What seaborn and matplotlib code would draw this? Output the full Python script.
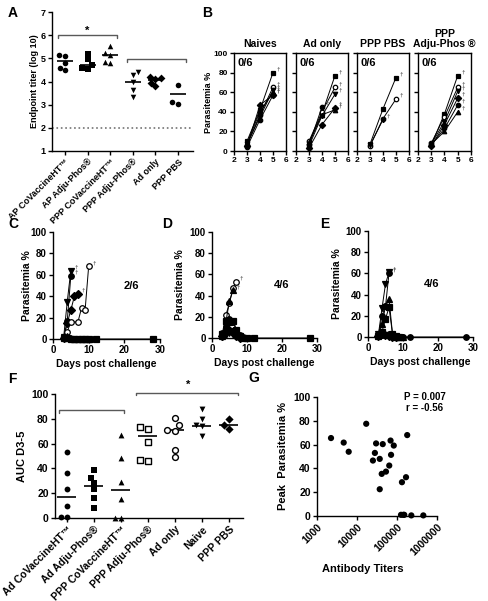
"""Multi-panel immunogenicity / challenge figure (panels A-G)."""

import matplotlib
matplotlib.use("Agg")
import matplotlib.pyplot as plt
import numpy as np
import pandas as pd
import seaborn as sns
from matplotlib.ticker import NullLocator

W, H = 489, 601

# ---------------------------------------------------------------- data
# A: endpoint titers (log10) per vaccine group
A_GROUPS = ["AP CoVaccineHT\u2122", "AP Adju-Phos\u00ae", "PPP CoVaccineHT\u2122",
            "PPP Adju-Phos\u00ae", "Ad only", "PPP PBS"]
A_VALUES = [
    [5.15, 5.10, 4.80, 4.60, 4.50],
    [5.20, 4.95, 4.70, 4.60, 4.55],
    [5.55, 5.25, 5.15, 4.85, 4.80],
    [4.40, 4.30, 4.00, 3.65, 3.35],
    [4.20, 4.15, 4.10, 3.95, 3.80],
    [3.85, 3.10, 3.05],
]
A_CENTER = [4.87, 4.72, 5.15, 3.98, 4.07, 3.45]
A_LIMIT = 2.0

# B: parasitemia (%) on days 3, 4, 5 for control groups (all died)
B_TITLES = ["Naives", "Ad only", "PPP PBS", "PPP\nAdju-Phos \u00ae"]
B_SURVIVAL = ["0/6", "0/6", "0/6", "0/6"]
B_DAYS = [3, 4, 5]
B_NAIVES = [[10, 42, 80], [6, 37, 65], [7, 35, 62], [5, 47, 57], [4, 32, 57], [8, 40, 60]]
B_AD_ONLY = [[8, 38, 77], [10, 40, 65], [5, 36, 58], [3, 27, 44], [6, 45], [9, 37, 42]]
B_PPP_PBS = [[7, 43, 75], [5, 33, 53], [6, 32]]
B_PPP_ADJU = [[6, 38, 77], [8, 35, 65], [7, 30, 61], [5, 27, 54], [6, 23, 47], [7, 20, 40]]

# C, D, E: parasitemia (%) over days post challenge, one list per mouse
C_DAYS = [[3, 4, 5], [3, 4, 5], [3, 4, 5, 6, 7], [3, 4, 5, 7, 8, 9, 10],
          [3, 4, 5, 6, 7, 8, 9, 10, 12, 28], [3, 4, 5, 6, 7, 8, 9, 10]]
C_VALS = [[2, 35, 64], [1, 17, 59], [1, 15, 27, 40, 42], [1, 7, 16, 16, 29, 27, 68],
          [1, 1, 0, 0, 0, 0, 0, 0, 0, 0], [2, 3, 1, 0, 0, 0, 0, 0]]
C_DIED = [True, True, True, True, False, False]
C_SURVIVAL = "2/6"

D_DAYS = [[3, 4, 5, 6, 7], [3, 4, 5, 6], [3, 4, 5, 6, 7, 8, 9, 10, 12, 28],
          [3, 4, 5, 6, 7, 8, 9, 10], [3, 4, 5, 6, 7, 8], [3, 4, 5, 6, 7, 8]]
D_VALS = [[5, 22, 33, 47, 53], [2, 16, 35, 45], [4, 16, 15, 16, 8, 2, 0, 0, 0, 0],
          [3, 10, 18, 15, 7, 3, 1, 0], [2, 6, 8, 5, 2, 0], [1, 3, 5, 7, 3, 1]]
D_DIED = [True, True, False, False, False, False]
D_SURVIVAL = "4/6"

E_DAYS = [[3, 4, 5, 6], [3, 4, 5, 6], [3, 4, 5, 6, 7, 8, 9, 10], [3, 4, 5, 6, 7, 8, 9],
          [3, 4, 5, 6, 7, 8, 9, 10, 12, 28], [3, 4, 5, 6, 7, 8]]
E_VALS = [[3, 27, 50, 61], [2, 20, 29, 60], [2, 12, 29, 36, 3, 0, 0, 0], [1, 5, 17, 28, 3, 1, 0],
          [1, 2, 2, 3, 1, 1, 0, 0, 0, 0], [1, 3, 2, 1, 0, 0]]
E_DIED = [True, True, False, False, False, False]
E_SURVIVAL = "4/6"

# F: AUC days 3-5
F_GROUPS = ["Ad CoVaccineHT\u2122", "Ad Adju-Phos\u00ae", "PPP CoVaccineHT\u2122",
            "PPP Adju-Phos\u00ae", "Ad only", "Naive", "PPP PBS"]
F_VALUES = [
    [53, 36, 23, 10, 0.5, 1],
    [39, 32, 28, 23, 16, 8],
    [67, 48, 29, 15, 0, 0.3],
    [73, 72, 61, 47, 46],
    [81, 75, 71, 70, 55, 49],
    [88, 80, 75, 74, 66],
    [80, 75, 72],
]
F_CENTER = [17, 25.5, 22.5, 66, 71, 74.5, 75]

# G: peak parasitemia vs antibody titer
G_TITER = [2240, 4650, 6200, 17000, 25000, 28000, 30000, 37000, 37000, 41500, 44000, 53000,
           64000, 69000, 71000, 83000, 133000, 168000, 180000, 126000, 144000, 152000,
           228000, 455000]
G_PEAK = [65.5, 61.7, 54, 77.5, 46.6, 53, 61, 48, 22.5, 35.4, 60.4, 37.3,
          42.4, 63.4, 51.4, 59.2, 28.4, 32.6, 68, 1, 1, 1, 0.5, 0.5]
G_STATS = "P = 0.007\nr = -0.56"

# ---------------------------------------------------------------- style
A_MARKERS = ["o", "s", "^", "v", "D", "o"]
B_MARKERS = ["s", "o", "v", "D", "o", "^"]
B_FACES = ["black", "white", "black", "black", "black", "black"]
C_MARKERS, C_FACES = ["v", "o", "D", "o", "s", "^"], ["black", "black", "black", "white", "black", "black"]
D_MARKERS, D_FACES = ["o", "^", "s", "o", "D", "v"], ["white", "black", "black", "black", "black", "black"]
E_MARKERS, E_FACES = ["v", "o", "^", "s", "o", "D"], ["black"] * 6
F_MARKERS = ["o", "s", "^", "s", "o", "v", "D"]
F_FACES = ["black", "black", "black", "white", "white", "black", "black"]

sns.set_theme(style="ticks")
plt.rcParams["font.family"] = ["Liberation Sans", "DejaVu Sans"]
plt.rcParams.update({
    "axes.linewidth": 1.0, "axes.edgecolor": "black",
    "xtick.major.width": 1.0, "ytick.major.width": 1.0,
    "xtick.major.size": 3, "ytick.major.size": 3,
    "xtick.major.pad": 1.5, "ytick.major.pad": 1.5,
    "xtick.color": "black", "ytick.color": "black",
    "text.color": "black", "axes.labelcolor": "black",
    "font.weight": "bold", "axes.labelweight": "bold",
})


def box(left, top, right, bottom):
    return [left / W, 1 - bottom / H, (right - left) / W, (bottom - top) / H]


def bracket(ax, x0, x1, y, h):
    ax.plot([x0, x0, x1, x1], [y - h, y, y, y - h], color="0.35", lw=1, clip_on=False)


def panel_label(letter, x, y):
    fig.text(x / W, 1 - y / H, letter, fontsize=10, fontweight="bold", va="center", ha="left")


def dot_groups(ax, groups, values, markers, faces, center, size):
    df = pd.DataFrame({"group": [g for g, v in zip(groups, values) for _ in v],
                       "value": [x for v in values for x in v]})
    for g, m, fc in zip(groups, markers, faces):
        open_mark = fc == "white"
        sns.swarmplot(data=df[df.group == g], x="group", y="value", order=groups, ax=ax,
                      marker=m, color=fc, edgecolor="black", linewidth=1 if open_mark else 0,
                      size=size)
    for coll in ax.collections:
        coll.set_clip_on(False)
    pos = np.arange(len(groups))
    ax.hlines(center, pos - 0.35, pos + 0.35, color="black", lw=1.2)
    ax.set_xticks(pos)
    ax.set_xlabel("")


def mouse_lines(ax, days, vals, markers, faces, died, msize=3.5):
    for d, v, m, fc, dead in zip(days, vals, markers, faces, died):
        sns.lineplot(x=d, y=v, ax=ax, color="black", marker=m, markersize=msize,
                     markerfacecolor=fc, markeredgecolor="black", markeredgewidth=0.9,
                     linewidth=0.7, clip_on=False)
        if dead:
            ax.annotate("\u2020", (d[-1], v[-1]), xytext=(2.5, 1.5), textcoords="offset points",
                        fontsize=4.5, color="0.35")


fig = plt.figure(figsize=(W / 100, H / 100), dpi=100)

# ---------------------------------------------------------------- A
axA = fig.add_axes(box(52, 12, 193, 151))
dot_groups(axA, A_GROUPS, A_VALUES, A_MARKERS, ["black"] * 6, A_CENTER, 4)
axA.axhline(A_LIMIT, color="0.45", ls=":", lw=1.2)
axA.set_xlim(-0.575, 5.66)
axA.set_ylim(1, 7)
axA.set_yticks(range(1, 8))
axA.set_xticklabels(A_GROUPS, rotation=45, ha="right", rotation_mode="anchor", fontsize=6.5)
axA.tick_params(axis="y", labelsize=6.5)
axA.set_ylabel("Endpoint titer (log 10)", fontsize=6.5)
axA.yaxis.set_label_coords(-0.092, 0.5)
bracket(axA, -0.3, 2.3, 6.0, 0.12)
axA.text(1, 6.2, "*", ha="center", va="center", fontsize=8)
bracket(axA, 2.74, 5.35, 4.97, 0.12)
sns.despine(ax=axA)
panel_label("A", 8, 13)

# ---------------------------------------------------------------- B
B_BOXES = [(234, 53, 286, 151), (296, 53, 348, 151), (357, 53, 409, 151), (418, 53, 471, 151)]
B_PANELS = [B_NAIVES, B_AD_ONLY, B_PPP_PBS, B_PPP_ADJU]
for k, (title, mice) in enumerate(zip(B_TITLES, B_PANELS)):
    ax = fig.add_axes(box(*B_BOXES[k]))
    days = [B_DAYS[:len(v)] for v in mice]
    mouse_lines(ax, days, mice, B_MARKERS, B_FACES, [True] * len(mice), msize=3.2)
    ax.set_xlim(2, 6)
    ax.set_ylim(0, 100)
    ax.set_xticks(range(2, 7))
    ax.set_yticks(range(0, 101, 20))
    ax.tick_params(labelsize=6)
    ax.set_title(title, fontsize=7.5, fontweight="bold", pad=4, linespacing=1.0)
    ax.text(0.07, 0.95, B_SURVIVAL[k], transform=ax.transAxes, fontsize=8,
            fontweight="bold", va="top", ha="left")
    if k == 0:
        ax.set_ylabel("Parasitemia %", fontsize=6.5)
        ax.yaxis.set_label_coords(-0.40, 0.5)
    else:
        ax.set_yticklabels([])
panel_label("B", 202, 13)

# ---------------------------------------------------------------- C, D, E
for (l, t, r, b), days, vals, mk, fc, died, surv, sx, letter, lx, ylx in [
    ((53, 232, 160, 339), C_DAYS, C_VALS, C_MARKERS, C_FACES, C_DIED, C_SURVIVAL, 22, "C", 8, -0.196),
    ((212, 232, 317, 338), D_DAYS, D_VALS, D_MARKERS, D_FACES, D_DIED, D_SURVIVAL, 20, "D", 162, -0.257),
    ((368, 231, 473, 337), E_DAYS, E_VALS, E_MARKERS, E_FACES, E_DIED, E_SURVIVAL, 18.3, "E", 320, -0.248),
]:
    ax = fig.add_axes(box(l, t, r, b))
    mouse_lines(ax, days, vals, mk, fc, died, msize=4)
    ax.set_xlim(0, 30)
    ax.set_ylim(0, 100)
    ax.set_xticks([0, 10, 20, 30])
    ax.set_yticks(range(0, 101, 20))
    ax.tick_params(labelsize=7)
    ax.set_ylabel("Parasitemia %", fontsize=7.5)
    ax.yaxis.set_label_coords(ylx, 0.5)
    ax.set_xlabel("Days post challenge", fontsize=7.5)
    ax.xaxis.set_label_coords(0.5, -0.19)
    ax.text(sx, 50, surv, fontsize=8, fontweight="bold", ha="center", va="center")
    sns.despine(ax=ax)
    panel_label(letter, lx, 224)

# ---------------------------------------------------------------- F
axF = fig.add_axes(box(55, 394, 243, 518))
dot_groups(axF, F_GROUPS, F_VALUES, F_MARKERS, F_FACES, F_CENTER, 4.2)
axF.set_xlim(-0.44, 6.52)
axF.set_ylim(0, 100)
axF.set_yticks(range(0, 101, 20))
axF.set_xticklabels(F_GROUPS, rotation=45, ha="right", rotation_mode="anchor", fontsize=7.5)
axF.tick_params(axis="y", labelsize=7.5)
axF.set_ylabel("AUC D3-5", fontsize=8)
axF.yaxis.set_label_coords(-0.15, 0.5)
bracket(axF, -0.3, 2.1, 87, 2)
bracket(axF, 2.55, 6.33, 101, 2)
axF.text(4.5, 107.5, "*", ha="center", va="center", fontsize=8)
sns.despine(ax=axF)
panel_label("F", 8, 379)

# ---------------------------------------------------------------- G
axG = fig.add_axes(box(317, 397, 437, 516))
sns.scatterplot(x=G_TITER, y=G_PEAK, ax=axG, color="black", s=20, edgecolor="none", clip_on=False)
axG.set_xscale("log")
axG.set_xlim(1e3, 1e6)
axG.set_ylim(0, 100)
axG.set_xticks([1e3, 1e4, 1e5, 1e6])
axG.set_xticklabels(["1000", "10000", "100000", "1000000"], rotation=45, ha="right",
                    rotation_mode="anchor", fontsize=7.5)
axG.xaxis.set_minor_locator(NullLocator())
axG.set_yticks(range(0, 101, 20))
axG.tick_params(axis="y", labelsize=7.5)
axG.set_ylabel("Peak  Parasitemia %", fontsize=8)
axG.yaxis.set_label_coords(-0.24, 0.5)
axG.set_xlabel("Antibody Titers", fontsize=8)
axG.xaxis.set_label_coords(0.38, -0.40)
axG.text(0.9, 0.955, G_STATS, transform=axG.transAxes, ha="center", va="center",
         fontsize=7, fontweight="bold", linespacing=1.1)
sns.despine(ax=axG)
panel_label("G", 248, 378)

fig.savefig("out.png", dpi=100)
